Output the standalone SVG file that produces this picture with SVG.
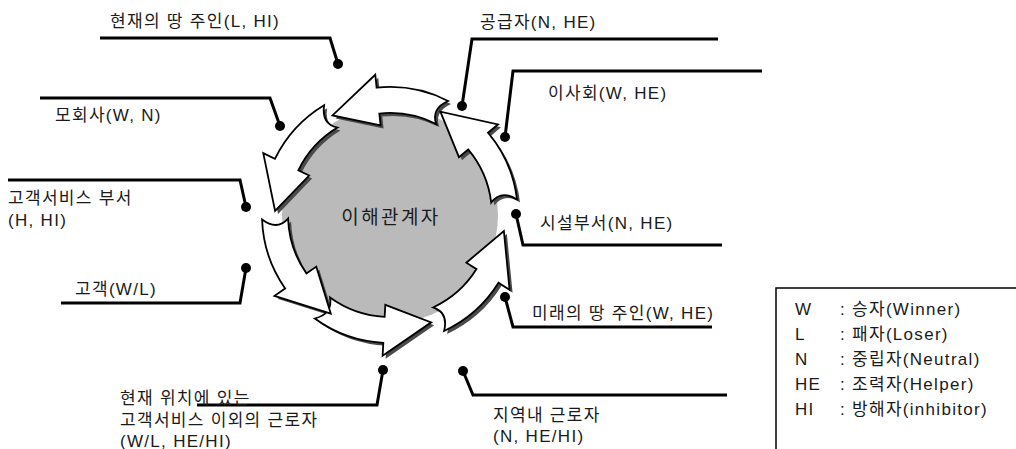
<svg xmlns="http://www.w3.org/2000/svg" xmlns:xlink="http://www.w3.org/1999/xlink" width="1016" height="449" viewBox="0 0 1016 449">
<style>
.t{font-family:"Liberation Sans","Noto Sans CJK KR",sans-serif;font-size:17px;fill:#1a1a1a;letter-spacing:1.3px}
.c{font-family:"Liberation Sans","Noto Sans CJK KR",sans-serif;font-size:19px;fill:#1a1a1a;letter-spacing:2.4px}
.ln{fill:none;stroke:#000;stroke-width:3;stroke-linejoin:miter}
.dot{fill:#000}
.arr{fill:#fff;stroke:#000;stroke-width:1.8;stroke-linejoin:miter}
.sh{fill:#4a4a4a}
.box{fill:none;stroke:#000;stroke-width:1.5}
</style>
<defs>
<path id="arrow" d="M90.88,46.31 A102,102 0 0 0 101.44,-10.66 L89.51,-9.41 L99.59,-57.5 L140.22,-14.74 L127.3,-13.38 A128,128 0 0 1 114.05,58.11 Q106.43,40.86 90.88,46.31 Z"/>
</defs>
<rect width="1016" height="449" fill="#fff"/>

<g id="center">
<circle cx="390" cy="215" r="108" fill="#bababa"/>
<g transform="translate(390,215)">
<use xlink:href="#arrow" class="sh" transform="translate(3,3) rotate(270)"/>
<use xlink:href="#arrow" class="sh" transform="translate(3,3) rotate(-34)"/>
<use xlink:href="#arrow" class="sh" transform="translate(3,3) rotate(38)"/>
<use xlink:href="#arrow" class="sh" transform="translate(3,3) rotate(99)"/>
<use xlink:href="#arrow" class="sh" transform="translate(3,3) rotate(151)"/>
<use xlink:href="#arrow" class="sh" transform="translate(3,3) rotate(212)"/>
<use xlink:href="#arrow" class="arr" transform="rotate(270)"/>
<use xlink:href="#arrow" class="arr" transform="rotate(-34)"/>
<use xlink:href="#arrow" class="arr" transform="rotate(38)"/>
<use xlink:href="#arrow" class="arr" transform="rotate(99)"/>
<use xlink:href="#arrow" class="arr" transform="rotate(151)"/>
<use xlink:href="#arrow" class="arr" transform="rotate(212)"/>
</g>
<text class="c" x="391" y="224" text-anchor="middle">이해관계자</text>
</g>

<g id="connectors">
<polyline class="ln" points="100,38 330,38 338,64"/><circle class="dot" cx="338" cy="64" r="5"/>
<polyline class="ln" points="40,98 270,98 280,126"/><circle class="dot" cx="280" cy="126" r="5"/>
<polyline class="ln" points="8,180 240,180 246,207"/><circle class="dot" cx="246" cy="207" r="5"/>
<polyline class="ln" points="61,303 240,303 246,268"/><circle class="dot" cx="246" cy="268" r="5"/>
<polyline class="ln" points="197,405 377,405 383,370"/><circle class="dot" cx="383" cy="370" r="5"/>
<polyline class="ln" points="718,39 472,39 462,106"/><circle class="dot" cx="462" cy="106" r="5"/>
<polyline class="ln" points="762,71 513,71 505,137"/><circle class="dot" cx="505" cy="137" r="5"/>
<polyline class="ln" points="722,245 523,245 516,214"/><circle class="dot" cx="516" cy="214" r="5"/>
<polyline class="ln" points="712,327 513,327 505,297"/><circle class="dot" cx="505" cy="297" r="5"/>
<polyline class="ln" points="727,395 473,395 463,371"/><circle class="dot" cx="463" cy="371" r="5"/>
</g>

<g id="current-landowner"><text class="t" x="110" y="27">현재의 땅 주인(L, HI)</text></g>
<g id="parent-company"><text class="t" x="55" y="121">모회사(W, N)</text></g>
<g id="customer-service"><text class="t" x="8" y="204">고객서비스 부서</text><text class="t" x="8" y="226">(H, HI)</text></g>
<g id="customer"><text class="t" x="75" y="295">고객(W/L)</text></g>
<g id="other-workers"><text class="t" x="120" y="404">현재 위치에 있는</text><text class="t" x="120" y="426">고객서비스 이외의 근로자</text><text class="t" x="120" y="447">(W/L, HE/HI)</text></g>
<g id="supplier"><text class="t" x="480" y="28">공급자(N, HE)</text></g>
<g id="board"><text class="t" x="548" y="99">이사회(W, HE)</text></g>
<g id="facilities"><text class="t" x="540" y="229">시설부서(N, HE)</text></g>
<g id="future-landowner"><text class="t" x="532" y="319">미래의 땅 주인(W, HE)</text></g>
<g id="local-workers"><text class="t" x="493" y="421">지역내 근로자</text><text class="t" x="493" y="442">(N, HE/HI)</text></g>

<g id="legend">
<polyline class="box" points="776,449 776,288 1016,288"/>
<text class="t" x="795" y="315">W</text><text class="t" x="840" y="315">:</text><text class="t" x="852" y="315">승자(Winner)</text>
<text class="t" x="795" y="340">L</text><text class="t" x="840" y="340">:</text><text class="t" x="852" y="340">패자(Loser)</text>
<text class="t" x="795" y="365">N</text><text class="t" x="840" y="365">:</text><text class="t" x="852" y="365">중립자(Neutral)</text>
<text class="t" x="795" y="390">HE</text><text class="t" x="840" y="390">:</text><text class="t" x="852" y="390">조력자(Helper)</text>
<text class="t" x="795" y="415">HI</text><text class="t" x="840" y="415">:</text><text class="t" x="852" y="415">방해자(inhibitor)</text>
</g>
</svg>
